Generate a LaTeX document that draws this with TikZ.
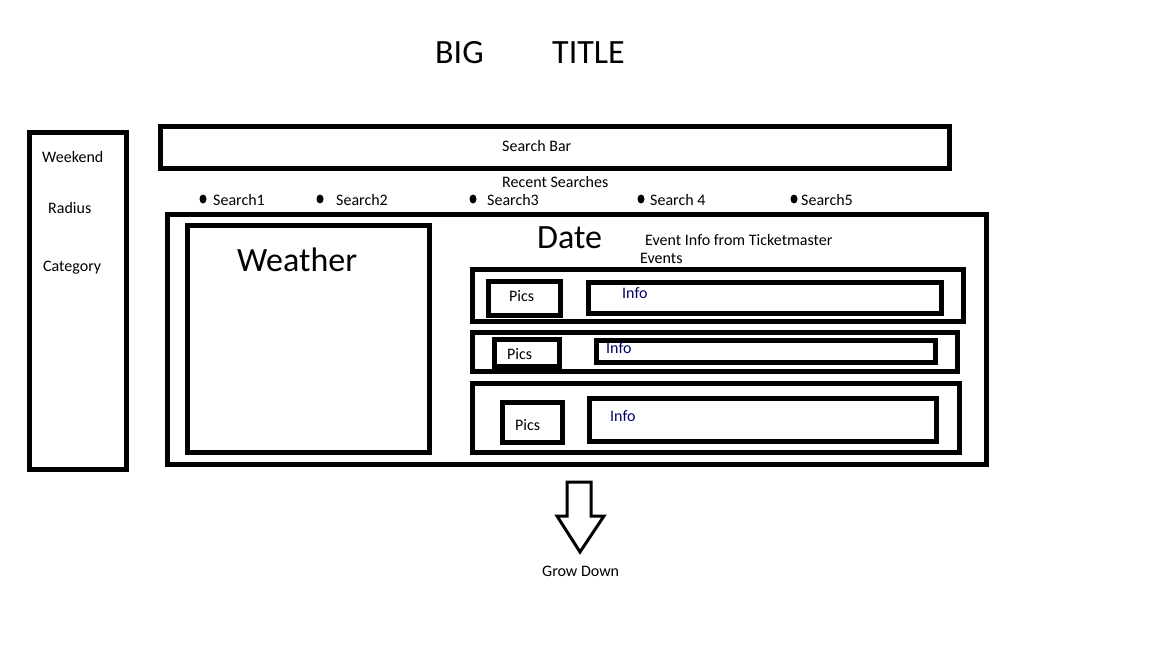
\documentclass[tikz,border=0pt]{standalone}
\usepackage{fontspec}
\setmainfont{Carlito}
\usetikzlibrary{shapes.geometric}
\colorlet{infoblue}{blue!40!black}

\begin{document}
\begin{tikzpicture}[
  x=1pt,y=-1pt,
  box/.style={draw,line width=5pt,inner sep=0,outer sep=0},
  big/.style={inner sep=0,font=\fontsize{34}{34}\selectfont},
  small/.style={inner sep=0,font=\fontsize{16}{16}\selectfont},
  dot/.style={ellipse,fill=black,inner sep=0,minimum width=7,minimum height=9}
]
\useasboundingbox (0,0) rectangle (1152,648);

% title
\node[big,anchor=base west] (big) at (435,63) {BIG};
\node[big,anchor=base west] (title) at (552,63) {TITLE};

% side panel
\node[box,minimum width=97,minimum height=337] (side) at (77.5,300.5) {};
\node[small,anchor=base west] (weekend) at (42,162) {Weekend};
\node[small,anchor=base west] (radius) at (48,213) {Radius};
\node[small,anchor=base west] (category) at (43,271) {Category};

% search
\node[box,minimum width=789,minimum height=42] (searchbar) at (554.5,147) {};
\node[small,anchor=base west] (searchlabel) at (502,151) {Search Bar};
\node[small,anchor=base west] (recent) at (502,187) {Recent Searches};
\foreach \i/\bx/\tx/\txt in {1/203/213/Search1,2/320/336/Search2,3/473/487/Search3,4/641/650/Search 4,5/794/801/Search5}
{
  \node[dot] (dot\i) at (\bx,199) {};
  \node[small,anchor=base west] (search\i) at (\tx,205) {\txt};
}

% main panel
\node[box,minimum width=819,minimum height=250] (main) at (576.5,339) {};
\node[box,minimum width=242,minimum height=227] (weather) at (308,338.5) {};
\node[big,anchor=base west] (weatherlabel) at (237,271) {Weather};
\node[big,anchor=base west] (date) at (537,248) {Date};
\node[small,anchor=base west] (eventinfo) at (645,245) {Event Info from Ticketmaster};
\node[small,anchor=base west] (events) at (640,263) {Events};

% event rows
\node[box,minimum width=491,minimum height=52] (row1) at (717.5,295) {};
\node[box,minimum width=72,minimum height=34] (pics1) at (524,298) {};
\node[box,minimum width=353,minimum height=31] (info1) at (764.5,297.5) {};
\node[small,anchor=base west] (picslabel1) at (509,301) {Pics};
\node[small,anchor=base west,infoblue] (infolabel1) at (622,298) {Info};

\node[box,minimum width=485,minimum height=39] (row2) at (714.5,351.5) {};
\node[box,minimum width=65,minimum height=27] (pics2) at (526.5,352.5) {};
\node[box,minimum width=339,minimum height=22] (info2) at (765.5,351) {};
\node[small,anchor=base west] (picslabel2) at (507,359) {Pics};
\node[small,anchor=base west,infoblue] (infolabel2) at (606,353) {Info};

\node[box,minimum width=487,minimum height=69] (row3) at (715.5,417.5) {};
\node[box,minimum width=60,minimum height=40] (pics3) at (532,422) {};
\node[box,minimum width=347,minimum height=43] (info3) at (762.5,419.5) {};
\node[small,anchor=base west] (picslabel3) at (515,430) {Pics};
\node[small,anchor=base west,infoblue] (infolabel3) at (610,421) {Info};

% grow arrow
\draw[line width=3pt,line join=miter] (567,482) -- (591,482) -- (591,516) -- (604,516)
  -- (580,552) -- (557,516) -- (567,516) -- cycle;
\node[small,anchor=base west] (grow) at (542,576) {Grow Down};
\end{tikzpicture}
\end{document}
